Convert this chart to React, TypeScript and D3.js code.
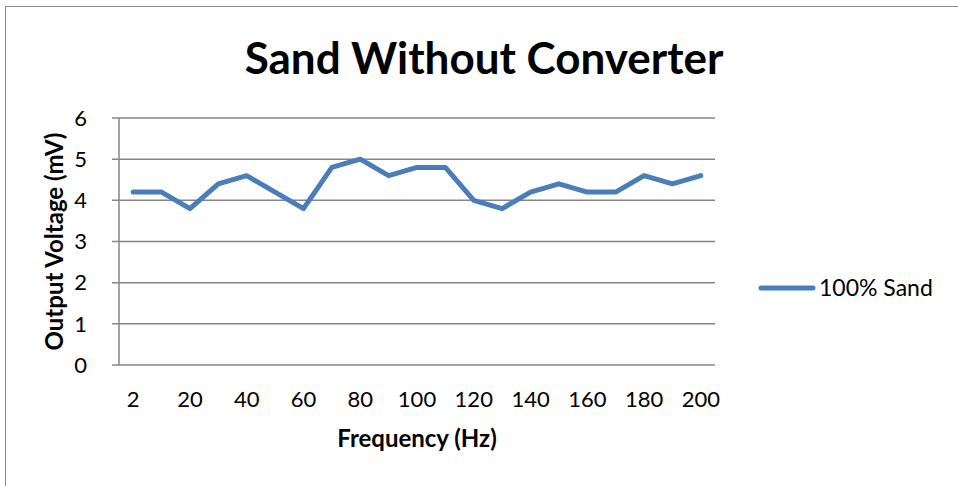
import React from "react";
import * as d3 from "d3";

// Frequency categories (Hz) and measured output voltage (mV)
const frequencies = [2, 10, 20, 30, 40, 50, 60, 70, 80, 90, 100, 110, 120, 130, 140, 150, 160, 170, 180, 190, 200];
const voltages = [4.2, 4.2, 3.8, 4.4, 4.6, 4.2, 3.8, 4.8, 5.0, 4.6, 4.8, 4.8, 4.0, 3.8, 4.2, 4.4, 4.2, 4.2, 4.6, 4.4, 4.6];
const xTickLabels = [2, 20, 40, 60, 80, 100, 120, 140, 160, 180, 200];
const yTicks = [0, 1, 2, 3, 4, 5, 6];
const seriesName = "100% Sand";
const chartTitle = "Sand Without Converter";
const xTitle = "Frequency (Hz)";
const yTitle = "Output Voltage (mV)";

const W = 958;
const H = 486;
const plot = { left: 119, right: 715, top: 118, bottom: 365 };
const FONT = "Lato, 'Open Sans', 'Liberation Sans', sans-serif";
const LINE = "#4A7EBB";
const GRID = "#868686";

export default function App() {
  const x = d3
    .scaleBand<number>()
    .domain(frequencies)
    .range([plot.left, plot.right])
    .paddingInner(0)
    .paddingOuter(0);
  const cx = (f: number) => (x(f) as number) + x.bandwidth() / 2;
  const y = d3.scaleLinear().domain([0, 6]).range([plot.bottom, plot.top]);

  const line = d3
    .line<number>()
    .x((_, i) => cx(frequencies[i]))
    .y((v) => y(v));

  return (
    <svg
      width={W}
      height={H}
      style={{ position: "absolute", left: 0, top: 0, background: "#fff" }}
      fontFamily={FONT}
    >
      <rect x={5.5} y={6.5} width={W + 10} height={H + 10} fill="#fff" stroke="#8c8c8c" strokeWidth={1} />

      <text x={484} y={74} textAnchor="middle" fontSize={44} fontWeight="bold" fill="#000">
        {chartTitle}
      </text>

      {/* horizontal gridlines and y tick marks */}
      {yTicks.map((t) => (
        <g key={t}>
          <line x1={plot.left - 7} x2={plot.right} y1={y(t)} y2={y(t)} stroke={GRID} strokeWidth={1.5} />
          <text x={87} y={y(t)} dy="0.35em" textAnchor="end" fontSize={22} fill="#000">
            {t}
          </text>
        </g>
      ))}
      <line x1={plot.left} x2={plot.left} y1={plot.top} y2={plot.bottom} stroke={GRID} strokeWidth={1.5} />

      {xTickLabels.map((f) => (
        <text key={f} x={cx(f)} y={407} textAnchor="middle" fontSize={22} fill="#000">
          {f}
        </text>
      ))}

      <path d={line(voltages) ?? ""} fill="none" stroke={LINE} strokeWidth={5} strokeLinejoin="round" strokeLinecap="round" />

      <text x={417} y={447} textAnchor="middle" fontSize={24} fontWeight="bold" fill="#000">
        {xTitle}
      </text>
      <text
        transform={`translate(63, ${(plot.top + plot.bottom) / 2}) rotate(-90)`}
        textAnchor="middle"
        fontSize={24}
        fontWeight="bold"
        fill="#000"
      >
        {yTitle}
      </text>

      <line x1={761} x2={813} y1={288} y2={288} stroke={LINE} strokeWidth={5} strokeLinecap="round" />
      <text x={819} y={288} dy="0.35em" fontSize={23} fill="#000">
        {seriesName}
      </text>
    </svg>
  );
}
